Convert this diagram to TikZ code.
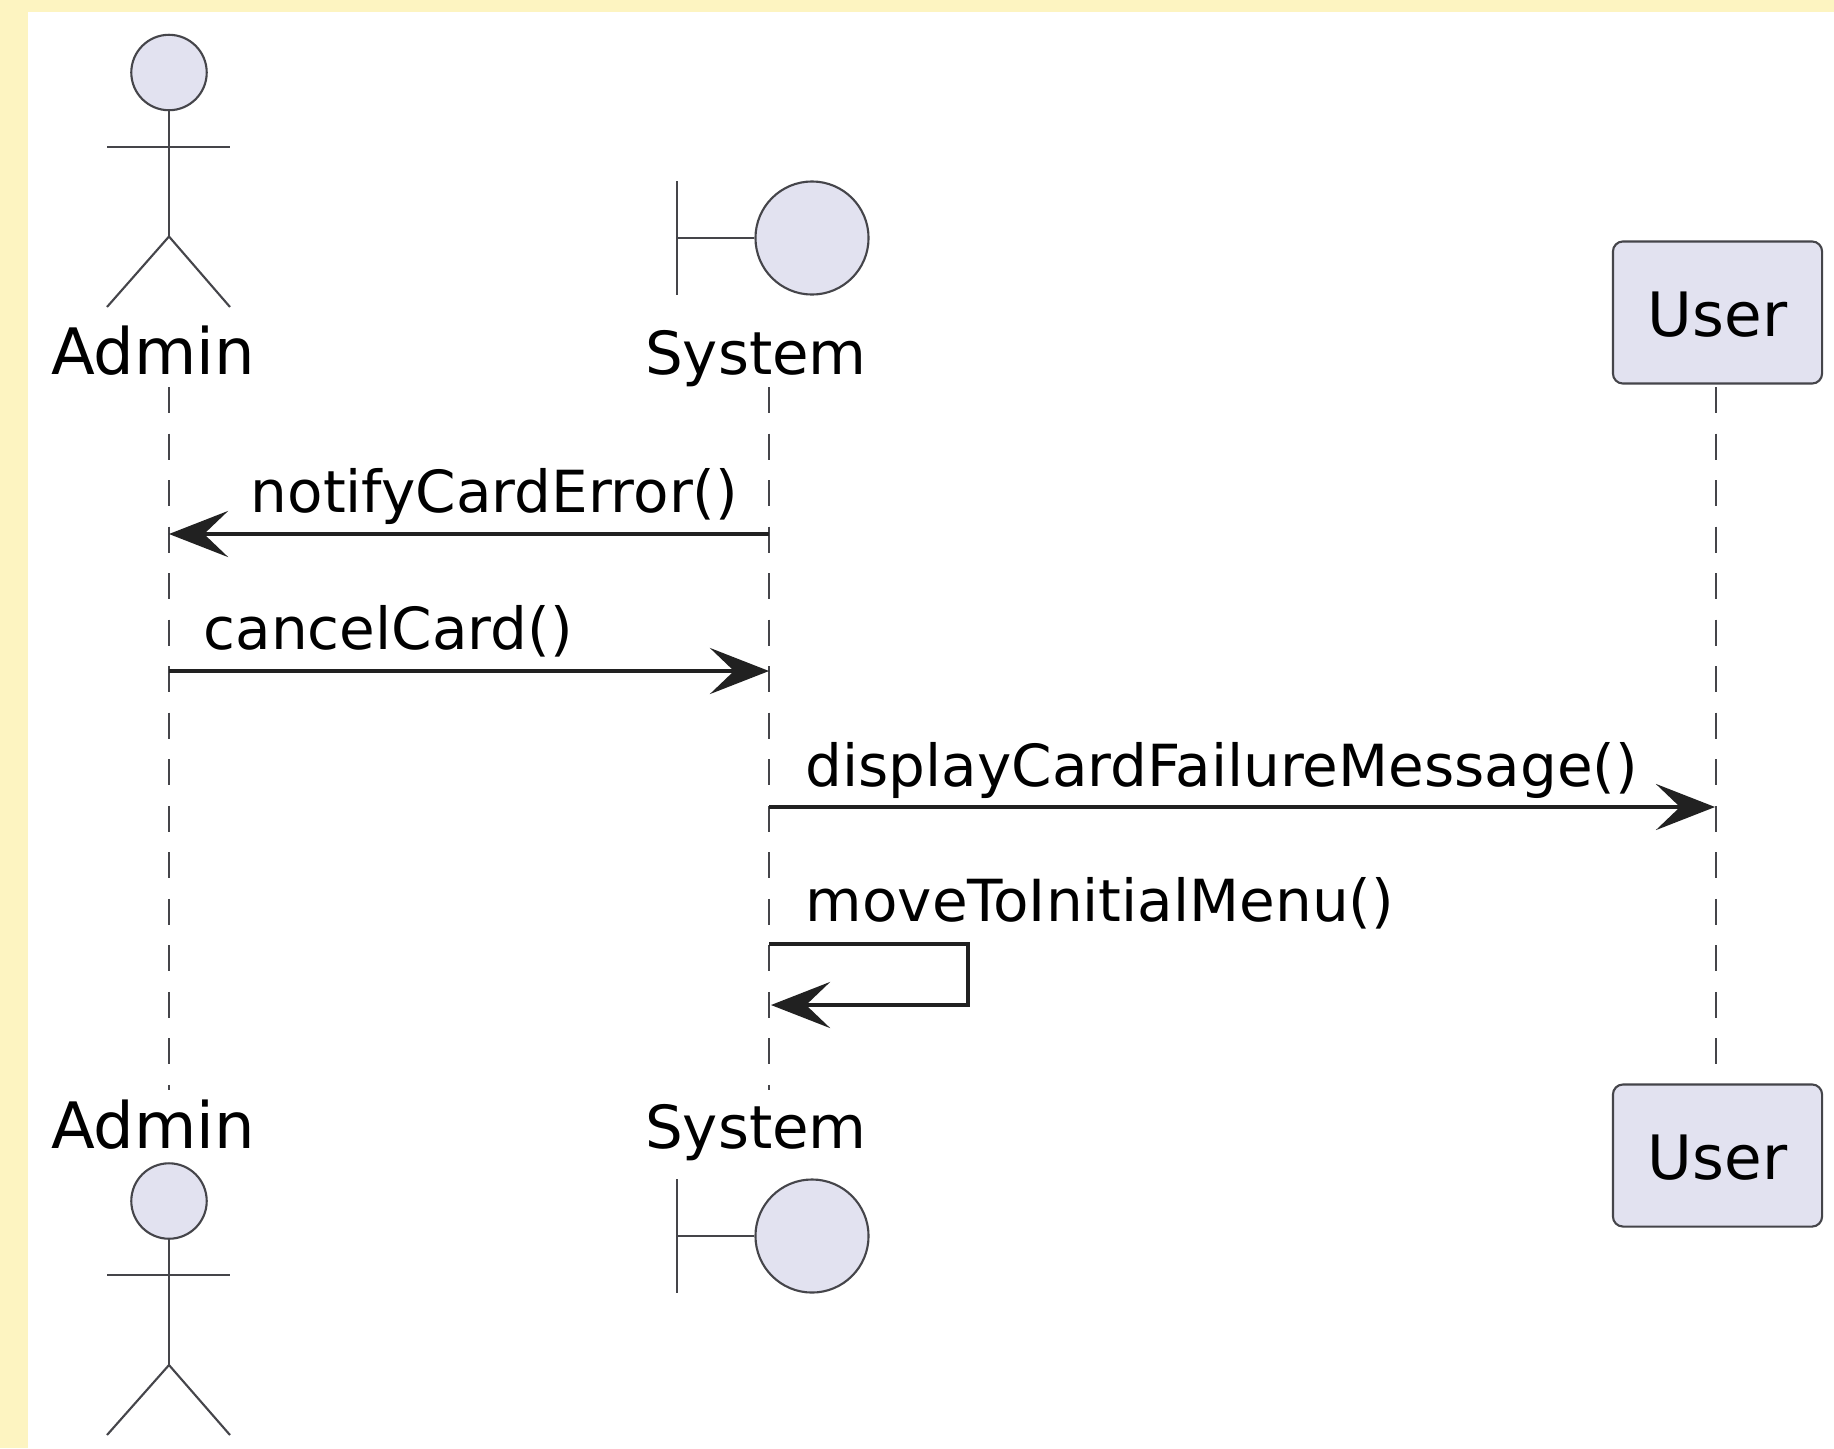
\documentclass[tikz,border=0pt]{standalone}
\usepackage{fontspec}
\setmainfont{DejaVu Sans}
\usepackage{color}
\usepackage{tikz}
\usetikzlibrary{arrows.meta}
\definecolor{lcream}{rgb}{0.992,0.957,0.757}
\definecolor{lpart}{rgb}{0.886,0.886,0.941}
\definecolor{lstroke}{rgb}{0.27,0.27,0.29}
\definecolor{ldark}{rgb}{0.13,0.13,0.13}

\begin{document}
\begin{tikzpicture}[x=0.01cm,y=-0.01cm]
\tikzstyle{head}=[circle,inner sep=0pt,minimum size=7.54mm,line width=0.6pt,draw=lstroke,fill=lpart]
\tikzstyle{bound}=[circle,inner sep=0pt,minimum size=11.3mm,line width=0.6pt,draw=lstroke,fill=lpart]
\tikzstyle{part}=[rectangle,rounded corners=1mm,minimum width=20.9mm,minimum height=14.2mm,inner sep=0pt,text height=14pt,line width=0.6pt,draw=lstroke,fill=lpart,font=\fontsize{17.4}{20}\selectfont,text=black]
\tikzstyle{aname}=[anchor=base,inner sep=0pt,font=\fontsize{18.2}{20}\selectfont,text=black]
\tikzstyle{sname}=[anchor=base,inner sep=0pt,font=\fontsize{16.9}{20}\selectfont,text=black]
\tikzstyle{msg}=[anchor=base west,inner sep=0pt,font=\fontsize{16.5}{20}\selectfont,text=black]
\tikzstyle{stick}=[line width=0.6pt,draw=lstroke]
\tikzstyle{life}=[line width=0.6pt,draw=lstroke,dash pattern=on 0.26cm off 0.205cm]
\tikzstyle{connect}=[-{Stealth[length=5.9mm,width=4.6mm,inset=2.4mm]},line width=1.2pt,draw=ldark]

	\useasboundingbox (0,0) rectangle (1834,1448);
	\fill[lcream] (0,0) rectangle (1834,1448);
	\fill[white] (27.5,11.5) rectangle (1834,1448);

	% lifelines
	\coordinate (at) at (169,387);
	\coordinate (ab) at (169,1090);
	\coordinate (st) at (769,387);
	\coordinate (sb) at (769,1090);
	\coordinate (ut) at (1716,387);
	\coordinate (ue) at (1716,1065);
	\path (at) edge [life] (ab);
	\path (st) edge [life] (sb);
	\path (ut) edge [life] (ue);

	% admin top
	\node[head] (ah) at (169,72.5) {};
	\coordinate (aw) at (107,147);
	\coordinate (ae) at (230,147);
	\coordinate (ahip) at (169,236.5);
	\coordinate (alf) at (107,307);
	\coordinate (arf) at (230,307);
	\path (ah) edge [stick] (ahip);
	\path (aw) edge [stick] (ae);
	\path (ahip) edge [stick] (alf);
	\path (ahip) edge [stick] (arf);
	\node[aname] (an) at (153,374) {Admin};

	% system top
	\node[bound] (sh) at (812,238) {};
	\coordinate (sn) at (677,181);
	\coordinate (ss) at (677,295);
	\coordinate (sm) at (677,238);
	\path (sn) edge [stick] (ss);
	\path (sm) edge [stick] (sh);
	\node[sname] (sl) at (756,374) {System};

	% user
	\node[part] (u) at (1717.5,312.5) {User};
	\node[part] (ub) at (1717.5,1155.5) {User};

	% admin bottom
	\node[aname] (anb) at (153,1148) {Admin};
	\node[head] (ahb) at (169,1201) {};
	\coordinate (awb) at (107,1275);
	\coordinate (aeb) at (230,1275);
	\coordinate (ahipb) at (169,1365);
	\coordinate (alfb) at (107,1435);
	\coordinate (arfb) at (230,1435);
	\path (ahb) edge [stick] (ahipb);
	\path (awb) edge [stick] (aeb);
	\path (ahipb) edge [stick] (alfb);
	\path (ahipb) edge [stick] (arfb);

	% system bottom
	\node[sname] (slb) at (756,1148) {System};
	\node[bound] (shb) at (812,1236) {};
	\coordinate (snb) at (677,1179);
	\coordinate (ssb) at (677,1293);
	\coordinate (smb) at (677,1236);
	\path (snb) edge [stick] (ssb);
	\path (smb) edge [stick] (shb);

	% messages
	\coordinate (m1s) at (769,534);
	\coordinate (m1e) at (169,534);
	\coordinate (m2s) at (169,671);
	\coordinate (m2e) at (769,671);
	\coordinate (m3s) at (769,807);
	\coordinate (m3e) at (1715,807);
	\coordinate (m4s) at (769,944);
	\coordinate (m4c) at (968,944);
	\coordinate (m4d) at (968,1005);
	\coordinate (m4e) at (771,1005);
	\draw[connect] (m1s) -- (m1e);
	\draw[connect] (m2s) -- (m2e);
	\draw[connect] (m3s) -- (m3e);
	\draw[connect] (m4s) -- (m4c) -- (m4d) -- (m4e);
	\node[msg] (l1) at (250,512) {notifyCardError()};
	\node[msg] (l2) at (203,649) {cancelCard()};
	\node[msg] (l3) at (805,786) {displayCardFailureMessage()};
	\node[msg] (l4) at (805,921) {moveToInitialMenu()};
\end{tikzpicture}
\end{document}
